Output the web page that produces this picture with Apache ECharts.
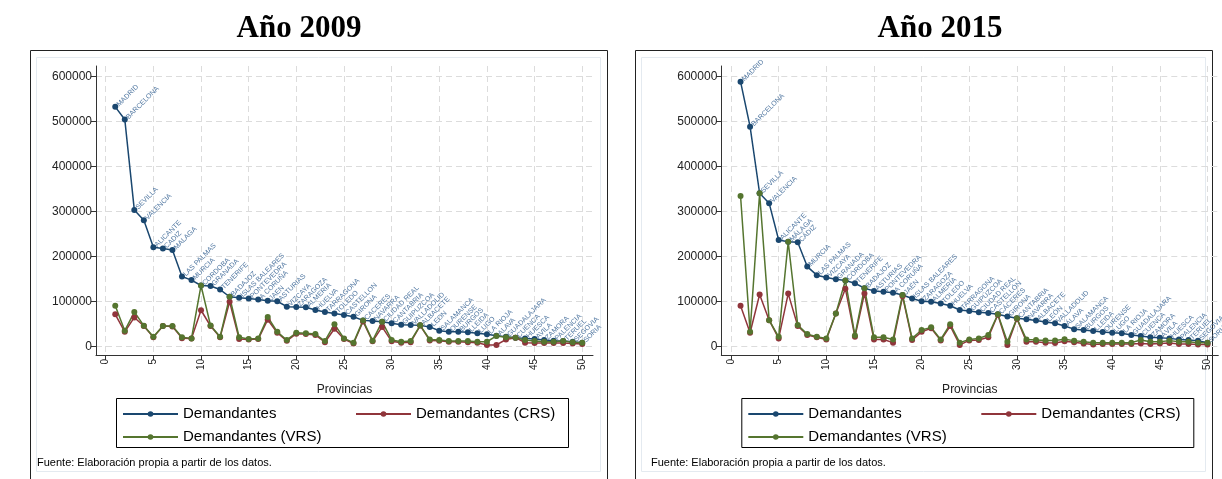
<!DOCTYPE html>
<html>
<head>
<meta charset="utf-8">
<script src="https://cdn.jsdelivr.net/npm/echarts@6/dist/echarts.min.js"></script>
<style>
html,body{margin:0;padding:0;background:#fff;}
#chart{width:1222px;height:479px;}
</style>
</head>
<body>
<div id="chart"></div>
<script>
// ---------- DATA ----------
const provincias2009 = ["MADRID","BARCELONA","SEVILLA","VALENCIA","ALICANTE","CADIZ","MALAGA","LAS PALMAS","MURCIA","CORDOBA","GRANADA","TENERIFE","BADAJOZ","ISLAS BALEARES","PONTEVEDRA","A CORUÑA","JAEN","ASTURIAS","VIZCAYA","ZARAGOZA","ALMERIA","HUELVA","TARRAGONA","TOLEDO","CASTELLON","GIRONA","CACERES","NAVARRA","CIUDAD REAL","CANTABRIA","GUIPUZCOA","VALLADOLID","ALBACETE","LEON","SALAMANCA","OURENSE","BURGOS","LLEIDA","LUGO","LA RIOJA","ALAVA","GUADALAJARA","CUENCA","HUESCA","AVILA","ZAMORA","PALENCIA","TERUEL","SEGOVIA","SORIA"];
const dem2009 = [533000,505000,304000,281000,221000,218000,215000,156000,148000,136000,135000,127000,111000,109000,107000,105000,102000,101000,89000,88000,87500,81500,77000,74000,70400,66700,58500,57000,55600,52000,49000,48000,47400,44000,35500,33000,33000,32000,30000,27500,24500,22000,20000,18500,17000,15000,13500,12700,11000,9000];
const crs2009 = [72000,33000,65000,46000,21000,46000,45000,19000,18000,81000,46000,21000,100000,17000,16000,17000,60000,31000,13000,29000,28000,26000,10000,40000,17000,7000,56000,12000,44000,12000,9000,10000,47000,14000,13000,11000,11000,10000,9000,4000,4000,16000,20000,9000,8000,8000,8000,8000,7000,6000];
const vrs2009 = [91000,35600,77000,46700,22000,46000,46000,21000,18500,136000,47000,22000,111000,21000,17000,18500,66000,33000,15000,31000,30000,28000,12700,50000,18500,9000,58500,13500,55600,15000,11000,12700,47400,16000,15000,12700,12700,12700,11000,11000,24000,21000,20000,15000,12700,11000,11000,12700,10000,9000];

const provincias2015 = ["MADRID","BARCELONA","SEVILLA","VALENCIA","ALICANTE","MÁLAGA","CÁDIZ","MURCIA","LAS PALMAS","VIZCAYA","GRANADA","CÓRDOBA","TENERIFE","BADAJOZ","ASTURIAS","PONTEVEDRA","A CORUÑA","JAÉN","ISLAS BALEARES","ZARAGOZA","ALMERÍA","TOLEDO","HUELVA","TARRAGONA","GUIPÚZCOA","CIUDAD REAL","CASTELLÓN","CÁCERES","GIRONA","CANTABRIA","NAVARRA","ALBACETE","LEÓN","VALLADOLID","ÁLAVA","SALAMANCA","BURGOS","LLEIDA","OURENSE","LUGO","LA RIOJA","GUADALAJARA","CUENCA","ZAMORA","ÁVILA","HUESCA","PALENCIA","TERUEL","SEGOVIA","SORIA"];
const dem2015 = [589000,489000,341000,319000,237000,233000,232000,178000,159000,154000,150000,147000,141000,130000,124000,122000,120000,115000,107000,101000,100000,96000,91000,81500,79500,76500,75000,72000,67000,63000,61000,58000,55000,52000,46000,39000,37000,35000,32600,31000,30000,26000,24000,21000,20000,18500,16000,15000,13500,9000];
const crs2015 = [91000,31000,116000,59000,18500,118000,46000,26000,21000,16000,74000,129000,22000,118000,16000,16000,9000,112000,15000,33000,41000,14000,46000,4000,14000,15000,21000,71000,4000,62000,11000,11000,9000,8000,12000,10000,7000,5000,6000,6000,6000,6000,7000,6000,7000,8000,6000,6000,5000,5000];
const vrs2015 = [335000,33000,341000,59000,22000,233000,48000,28000,22000,18500,74000,147000,25000,130000,21000,21000,16000,115000,18500,37000,43000,16000,50000,9000,16000,18500,26000,72000,11000,63000,16000,15000,14000,14000,16500,13500,11000,9000,9000,9000,9000,9000,15000,11000,11000,13500,11000,11000,9000,9000];

const xTicks = [0,5,10,15,20,25,30,35,40,45,50];
const yTicks = [0,100000,200000,300000,400000,500000,600000];
const seriesNames = ["Demandantes","Demandantes (CRS)","Demandantes (VRS)"];
const titles = ["Año 2009","Año 2015"];
const axisTitle = "Provincias";
const footer = "Fuente: Elaboración propia a partir de los datos.";

// ---------- STYLE ----------
const COLORS = ["#1a476f","#90353b","#55752f"];
const FONT = "'Liberation Sans', Arial, sans-serif";
const panels = [
  {dx: 0, box: 30.5, title: 299, foot: 37, names: provincias2009, dem: dem2009, crs: crs2009, vrs: vrs2009},
  {dx: 625.3, box: 635.5, title: 940, foot: 651, names: provincias2015, dem: dem2015, crs: crs2015, vrs: vrs2015}
];

const toPts = arr => arr.map((v,i)=>[i+1, v]);

const grid=[], xAxis=[], yAxis=[], series=[], legend=[], graphic=[];
panels.forEach((p, k) => {
  const gl = 96 + p.dx;
  grid.push({left: gl, top: 66, width: 497, height: 289, containLabel: false});
  xAxis.push({
    type: 'value', gridIndex: k, min: -1.02, max: 51.13,
    name: axisTitle, nameLocation: 'middle', nameGap: 29,
    nameTextStyle: {fontFamily: FONT, fontSize: 12, color: '#222'},
    axisLine: {show: true, onZero: false, lineStyle: {color: '#333', width: 1}},
    axisTick: {show: true, length: 5, customValues: xTicks, lineStyle: {color: '#333'}},
    axisLabel: {customValues: xTicks, rotate: 90, fontFamily: FONT, fontSize: 10, color: '#222', margin: 4},
    splitLine: {show: true, lineStyle: {color: '#dcdcdc', type: [6,4], width: 1}}
  });
  yAxis.push({
    type: 'value', gridIndex: k, min: -18444, max: 623778,
    axisLine: {show: true, onZero: false, lineStyle: {color: '#333', width: 1}},
    axisTick: {show: true, length: 5, customValues: yTicks, lineStyle: {color: '#333'}},
    axisLabel: {customValues: yTicks, formatter: v => String(v), fontFamily: FONT, fontSize: 12, color: '#222', margin: 4},
    splitLine: {show: true, lineStyle: {color: '#dcdcdc', type: [6,4], width: 1}}
  });
  const mk = (name, arr, color, withLabels) => ({
    name, type: 'line', xAxisIndex: k, yAxisIndex: k,
    data: toPts(arr), symbol: 'circle', symbolSize: 6, showAllSymbol: true,
    color, lineStyle: {color, width: 1.5}, itemStyle: {color},
    label: withLabels ? {
      show: true, position: 'right', distance: 1, rotate: 45, align: 'left', verticalAlign: 'middle',
      offset: [0, -2],
      fontFamily: FONT, fontSize: 7, color: '#4f76a0',
      formatter: prm => p.names[prm.dataIndex]
    } : {show: false},
    emphasis: {disabled: true}, animation: false, z: 2
  });
  series.push(mk(seriesNames[0], p.dem, COLORS[0], true));
  series.push(mk(seriesNames[1], p.crs, COLORS[1], false));
  series.push(mk(seriesNames[2], p.vrs, COLORS[2], false));

  const lx = 122 + p.dx;
  const legendCommon = {
    orient: 'vertical', top: 406, padding: 0, itemWidth: 55, itemHeight: 7, itemGap: 7,
    textStyle: {fontFamily: FONT, fontSize: 15, color: '#000', lineHeight: 16},
    selectedMode: false, inactiveColor: '#000'
  };
  legend.push(Object.assign({}, legendCommon, {left: lx, data: [seriesNames[0], seriesNames[2]]}));
  legend.push(Object.assign({}, legendCommon, {left: lx + 233, data: [seriesNames[1]]}));

  // panel border
  graphic.push({type: 'rect', shape: {x: p.box, y: 50.5, width: 577, height: 440}, style: {fill: 'none', stroke: '#222', lineWidth: 1}, silent: true});
  // inner region border
  graphic.push({type: 'rect', shape: {x: p.box + 6, y: 57.5, width: 564, height: 414}, style: {fill: 'none', stroke: '#e4eaf0', lineWidth: 1}, silent: true});
  // legend box
  graphic.push({type: 'rect', shape: {x: 116.5 + p.dx, y: 398.5, width: 452, height: 49}, style: {fill: 'none', stroke: '#000', lineWidth: 1}, silent: true});
  // title
  graphic.push({type: 'text', x: p.title, y: 29, style: {text: titles[k], font: "bold 31px 'Liberation Serif', 'Times New Roman', serif", fill: '#000', align: 'center', verticalAlign: 'middle'}, silent: true});
  // footer
  graphic.push({type: 'text', x: p.foot, y: 463, style: {text: footer, font: "11px " + FONT, fill: '#000', align: 'left', verticalAlign: 'middle'}, silent: true});
});

const chart = echarts.init(document.getElementById('chart'), null, {renderer: 'canvas'});
chart.setOption({
  animation: false,
  backgroundColor: '#fff',
  grid, xAxis, yAxis, series, legend, graphic
});
</script>
</body>
</html>
